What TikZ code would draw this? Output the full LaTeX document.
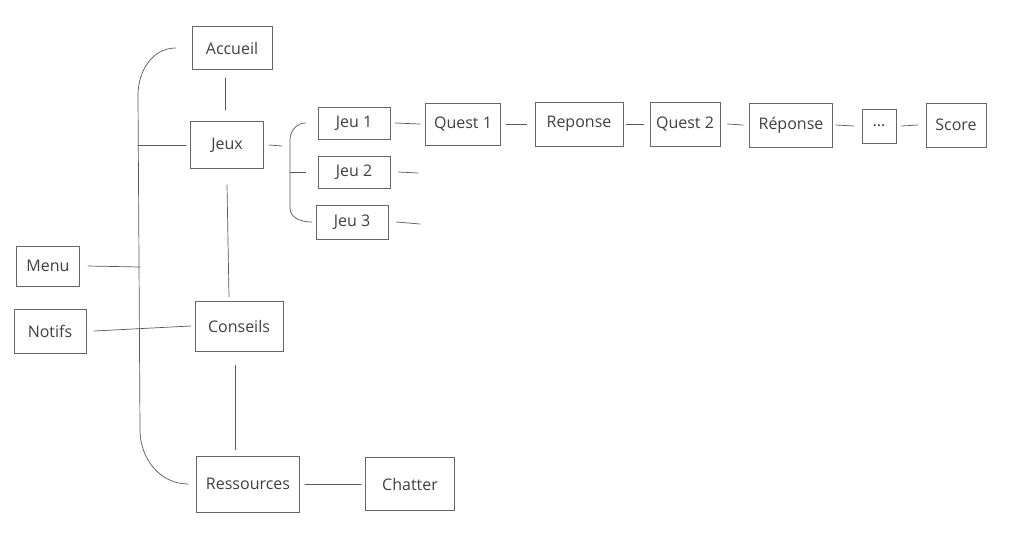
\documentclass[tikz,border=0pt]{standalone}
\usepackage{fontspec}
\setmainfont{Open Sans}
\begin{document}
\begin{tikzpicture}[x=1pt,y=-1pt,
  box/.style={draw=black!60, line width=0.7pt, inner sep=0pt, text=black!75,
    font=\fontsize{16}{18}\selectfont},
  wire/.style={draw=black!65, line width=0.7pt, line cap=round}]
\fill[white] (0,0) rectangle (1024,546);
\useasboundingbox (0,0) rectangle (1024,546);
% nodes
\node[box, minimum width=80, minimum height=43] (acc) at (232,48) {Accueil};
\node[box, minimum width=73, minimum height=47] (jeux) at (227,145) {Jeux};
\node[box, minimum width=72, minimum height=32] (jeu1) at (354,123) {Jeu 1};
\node[box, minimum width=72, minimum height=32] (jeu2) at (354,172) {Jeu 2};
\node[box, minimum width=72, minimum height=34] (jeu3) at (352,222) {Jeu 3};
\node[box, minimum width=75, minimum height=42] (q1) at (463,124) {Quest 1};
\node[box, minimum width=88, minimum height=44] (rep1) at (579,124) {Reponse};
\node[box, minimum width=70, minimum height=44] (q2) at (685,124) {Quest 2};
\node[box, minimum width=83, minimum height=44] (rep2) at (791,125) {Réponse};
\node[box, minimum width=34, minimum height=34] (dots) at (879,126) {...};
\node[box, minimum width=60, minimum height=44] (score) at (956,125) {Score};
\node[box, minimum width=63, minimum height=40] (menu) at (48,266) {Menu};
\node[box, minimum width=72, minimum height=44] (notifs) at (50,331) {Notifs};
\node[box, minimum width=88, minimum height=50] (cons) at (239,326) {Conseils};
\node[box, minimum width=103, minimum height=56] (res) at (248,484) {Ressources};
\node[box, minimum width=89, minimum height=53] (chat) at (410,484) {Chatter};
% helper coordinates
\coordinate (bt) at (138,95);
\coordinate (bb) at (140,430);
\coordinate (bj) at (138,145);
\coordinate (bm) at (140,267);
\coordinate (jt) at (290,140);
\coordinate (jb) at (290,208);
\coordinate (jm) at (290,172);
\coordinate (jx) at (282,146);
\coordinate (t2) at (418,173);
\coordinate (t3) at (420,224);
% main bracket
\draw[wire] ([xshift=-16]acc.west) to[out=180,in=90] (bt) -- (bb) to[out=-90,in=180] ([xshift=-8]res.west);
\draw[wire] (bj) -- ([xshift=-4]jeux.west);
\draw[wire] ([xshift=8]menu.east) -- (bm);
\draw[wire] ([xshift=8]notifs.east) -- ([xshift=-4]cons.west);
% vertical links
\draw[wire] ([xshift=-7,yshift=-8]acc.south) -- ([xshift=-2,yshift=11]jeux.north);
\draw[wire] ([yshift=-16]jeux.south) -- ([xshift=-10,yshift=4]cons.north);
\draw[wire] ([xshift=-4,yshift=-14]cons.south) -- ([xshift=-13,yshift=6]res.north);
\draw[wire] ([xshift=5]res.east) -- ([xshift=-4]chat.west);
% jeux bracket
\draw[wire] ([xshift=5]jeux.east) -- (jx);
\draw[wire] ([xshift=-12]jeu1.west) to[out=180,in=90] (jt) -- (jb) to[out=-90,in=180] ([xshift=-4]jeu3.west);
\draw[wire] (jm) -- ([xshift=-12]jeu2.west);
\draw[wire] ([xshift=8]jeu2.east) -- (t2);
\draw[wire] ([xshift=8]jeu3.east) -- (t3);
% chain
\draw[wire] ([xshift=5]jeu1.east) -- ([xshift=-5]q1.west);
\draw[wire] ([xshift=5]q1.east) -- ([xshift=-8]rep1.west);
\draw[wire] ([xshift=3]rep1.east) -- ([xshift=-6]q2.west);
\draw[wire] ([xshift=7]q2.east) -- ([xshift=-6]rep2.west);
\draw[wire] ([xshift=3]rep2.east) -- ([xshift=-8]dots.west);
\draw[wire] ([xshift=5]dots.east) -- ([xshift=-8]score.west);
\end{tikzpicture}
\end{document}
